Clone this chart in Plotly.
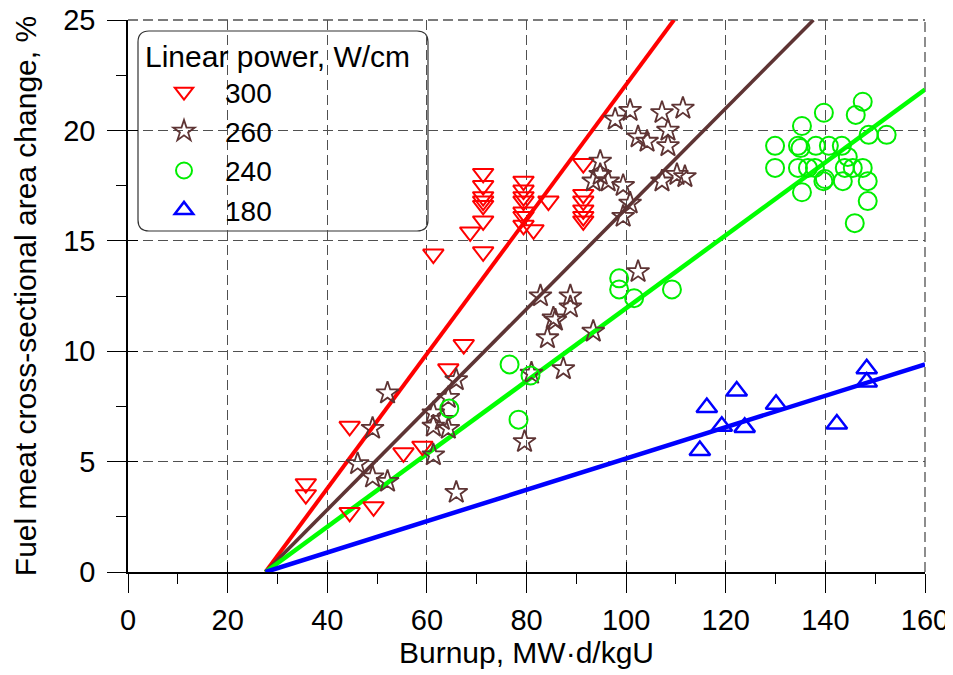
import plotly.graph_objects as go

# ---------------- data ----------------
red_x = [35.7, 35.7, 44.5, 44.5, 49.3, 55.3, 59.1, 61.3, 64.3, 67.4, 68.7,
         71.3, 71.3, 71.3, 71.3, 71.3, 71.3, 71.3,
         79.4, 79.4, 79.4, 79.4, 79.4, 79.4, 79.4, 81.4, 84.4,
         91.4, 91.4, 91.4, 91.4, 91.4, 91.4]
red_y = [4.0, 3.5, 6.6, 2.7, 2.95, 5.4, 5.7, 14.4, 9.2, 10.3, 15.4,
         18.05, 17.5, 17.0, 16.8, 16.6, 15.9, 14.5,
         17.7, 17.3, 17.0, 16.8, 16.3, 16.1, 15.7, 15.5, 16.8,
         18.5, 17.1, 16.8, 16.4, 16.1, 15.9]

brown_x = [52.1, 49.1, 46.1, 49.1, 52.1, 65.9, 64.3, 61.3, 63.1, 61.3, 64.3, 61.3, 65.9,
           81.0, 87.4, 79.6, 84.2, 85.8, 85.4, 88.8, 88.8, 82.8, 93.4,
           97.8, 100.8, 102.4, 104.2, 107.2, 108.4, 108.4, 111.4,
           94.8, 94.8, 93.4, 96.4, 99.4, 100.8, 99.4, 107.2, 110.2, 111.8, 102.4]
brown_y = [8.1, 6.5, 4.9, 4.3, 4.1, 8.7, 7.9, 7.2, 6.9, 6.6, 6.5, 5.3, 3.6,
           9.0, 9.2, 5.9, 10.6, 11.4, 11.5, 12.0, 12.5, 12.5, 10.9,
           20.5, 20.9, 19.7, 19.5, 20.8, 20.0, 19.3, 21.0,
           18.6, 18.0, 17.7, 17.7, 17.5, 16.7, 16.1, 17.7, 18.0, 17.9, 13.6]

green_x = [64.5, 76.6, 78.4, 80.8, 98.6, 98.6, 101.6, 109.2,
           135.3, 139.7, 146.1, 147.5, 148.7, 152.3, 129.9, 129.9, 134.5, 135.0,
           138.1, 140.7, 143.3, 144.5, 134.5, 136.5, 137.9, 139.9, 139.6, 143.9,
           145.5, 147.5, 143.5, 148.5, 135.3, 148.5, 145.9]
green_y = [7.4, 9.4, 6.9, 8.9, 13.3, 12.8, 12.4, 12.8,
           20.2, 20.8, 20.7, 21.3, 19.8, 19.8, 19.3, 18.3, 19.3, 19.2,
           19.3, 19.3, 19.3, 18.8, 18.3, 18.3, 18.3, 17.8, 17.7, 18.3,
           18.3, 18.3, 17.7, 17.7, 17.2, 16.8, 15.8]

blue_x = [116.2, 122.2, 119.2, 114.8, 123.8, 130.1, 142.3, 148.3, 148.3]
blue_y = [7.45, 8.2, 6.6, 5.5, 6.55, 7.6, 6.7, 9.2, 8.6]

# fitted lines (start, end)
fit_red_x, fit_red_y = [27.6, 109.6], [0, 25]
fit_brown_x, fit_brown_y = [27.6, 137.6], [0, 25]
fit_green_x, fit_green_y = [27.6, 160], [0, 21.85]
fit_blue_x, fit_blue_y = [27.6, 160], [0, 9.4]

legend_names = ["300", "260", "240", "180"]
x_ticks = [0, 20, 40, 60, 80, 100, 120, 140, 160]
x_minor = [10, 30, 50, 70, 90, 110, 130, 150]
y_ticks = [0, 5, 10, 15, 20, 25]
y_minor = [2.5, 7.5, 12.5, 17.5, 22.5]

# ---------------- style ----------------
RED = "#FF0000"
BROWN = "#5E3434"
GREEN = "#00EE00"
BLUE = "#0000FF"
FONT = "Liberation Sans, Arial, sans-serif"
GRID = "#505050"
DASH = "10px,5px"

fig = go.Figure()

# fit lines
for fx, fy, col, w in [(fit_red_x, fit_red_y, RED, 4),
                       (fit_brown_x, fit_brown_y, BROWN, 3.6),
                       (fit_green_x, fit_green_y, "#00FF00", 4.5),
                       (fit_blue_x, fit_blue_y, BLUE, 4.5)]:
    fig.add_trace(go.Scatter(x=fx, y=fy, mode="lines", line=dict(color=col, width=w),
                             showlegend=False, hoverinfo="skip"))

# markers
fig.add_trace(go.Scatter(x=red_x, y=red_y, mode="markers", name=legend_names[0],
                         marker=dict(symbol="triangle-down-open", size=18, color=RED,
                                     line=dict(width=2, color=RED))))
fig.add_trace(go.Scatter(x=brown_x, y=brown_y, mode="markers", name=legend_names[1],
                         marker=dict(symbol="star-open", size=17, color=BROWN,
                                     line=dict(width=1.8, color=BROWN))))
fig.add_trace(go.Scatter(x=green_x, y=green_y, mode="markers", name=legend_names[2],
                         marker=dict(symbol="circle-open", size=18, color=GREEN,
                                     line=dict(width=2, color=GREEN))))
fig.add_trace(go.Scatter(x=blue_x, y=blue_y, mode="markers", name=legend_names[3],
                         marker=dict(symbol="triangle-up-open", size=18, color=BLUE,
                                     line=dict(width=2.5, color=BLUE))))

# empty trace for overlay axes (inside tick parts)
fig.add_trace(go.Scatter(x=[], y=[], xaxis="x2", yaxis="y2", showlegend=False))

# page has an 8px body margin: figure occupies the remaining viewport
OFF = 8
W, H = 953 - OFF, 675 - OFF
L, R, T, B = 128 - OFF, 28, 20 - OFF, 103
pw, ph = W - L - R, H - T - B


def px2paper(px, py):
    # px, py are screenshot pixel coordinates
    return (px - OFF - L) / pw, (H - B - (py - OFF)) / ph


# top and right frame (dashed, like the grid)
fig.add_shape(type="line", xref="paper", yref="paper", x0=0, x1=1, y0=1, y1=1,
              line=dict(color=GRID, width=1.3, dash=DASH), layer="below")
fig.add_shape(type="line", xref="paper", yref="paper", x0=1, x1=1, y0=0, y1=1,
              line=dict(color=GRID, width=1.3, dash=DASH), layer="below")

# rounded legend box
x0, y1 = px2paper(138, 31)
x1, y0 = px2paper(428, 231)
rx, ry = 11 / pw, 11 / ph
path = (f"M {x0+rx},{y1} L {x1-rx},{y1} Q {x1},{y1} {x1},{y1-ry} "
        f"L {x1},{y0+ry} Q {x1},{y0} {x1-rx},{y0} L {x0+rx},{y0} "
        f"Q {x0},{y0} {x0},{y0+ry} L {x0},{y1-ry} Q {x0},{y1} {x0+rx},{y1} Z")
fig.add_shape(type="path", path=path, xref="paper", yref="paper",
              line=dict(color="#333333", width=1.2), fillcolor="white", layer="below")

leg_x, leg_y = px2paper(143, 28)

axis_common = dict(showline=True, linecolor="black", linewidth=1.5, zeroline=False,
                   automargin=False, ticklabeloverflow="allow",
                   showgrid=True, gridcolor=GRID, gridwidth=1.3, griddash=DASH,
                   ticks="outside", ticklen=19, tickwidth=1.3, tickcolor="black",
                   tickfont=dict(family=FONT, size=29, color="black"))

fig.update_layout(
    width=W, height=H,
    margin=dict(l=L, r=R, t=T, b=B),
    paper_bgcolor="white", plot_bgcolor="white",
    font=dict(family=FONT, size=29, color="black"),
    xaxis=dict(range=[0, 160], tickvals=x_ticks, ticktext=[str(v) for v in x_ticks],
               ticklabelstandoff=2,
               title=dict(text="Burnup, MW·d/kgU", font=dict(family=FONT, size=30), standoff=3),
               minor=dict(tickvals=x_minor, ticks="outside", ticklen=10, tickwidth=1.3,
                          tickcolor="black", showgrid=False),
               **axis_common),
    yaxis=dict(range=[0, 25], tickvals=y_ticks, ticktext=[str(v) for v in y_ticks],
               ticklabelstandoff=6,
               title=dict(text="Fuel meat cross-sectional area change, %",
                          font=dict(family=FONT, size=30), standoff=18),
               minor=dict(tickvals=y_minor, ticks="outside", ticklen=10, tickwidth=1.3,
                          tickcolor="black", showgrid=False),
               **axis_common),
    xaxis2=dict(overlaying="x", matches="x", anchor="y", side="bottom",
                showticklabels=False, showgrid=False, showline=False, zeroline=False,
                tickvals=x_ticks, ticks="inside", ticklen=10, tickwidth=1.3, tickcolor="black"),
    yaxis2=dict(overlaying="y", matches="y", anchor="x", side="left",
                showticklabels=False, showgrid=False, showline=False, zeroline=False,
                tickvals=y_ticks, ticks="inside", ticklen=10, tickwidth=1.3, tickcolor="black"),
    legend=dict(x=leg_x, y=leg_y, xanchor="left", yanchor="top",
                bgcolor="rgba(0,0,0,0)", borderwidth=0,
                title=dict(text="Linear power, W/cm", font=dict(family=FONT, size=30)),
                font=dict(family=FONT, size=28), itemwidth=72),
    showlegend=True,
)

fig.write_html("out.html")
